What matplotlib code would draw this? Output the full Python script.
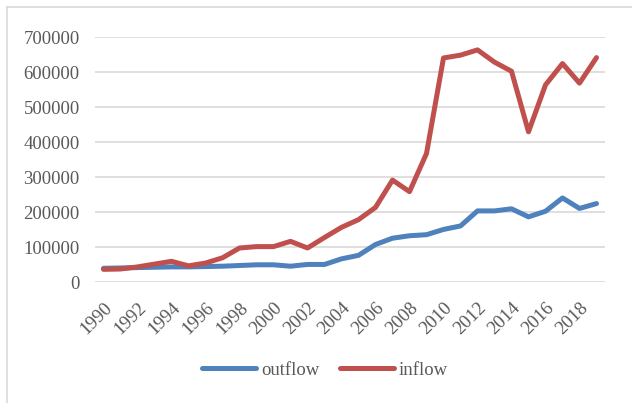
import numpy as np
import matplotlib.pyplot as plt
from matplotlib.lines import Line2D

years = list(range(1990, 2020))
outflow = [40000, 41000, 42000, 43000, 44000, 44000, 45000, 46000, 48000, 50000,
           50000, 46000, 51000, 51000, 67000, 77000, 108000, 126000, 133000, 136000,
           151000, 161000, 204000, 204000, 210000, 187000, 203000, 241000, 211000, 225000]
inflow = [37000, 38000, 44000, 52000, 60000, 47000, 55000, 70000, 98000, 102000,
          102000, 117000, 98000, 128000, 157000, 179000, 214000, 292000, 259000, 368000,
          641000, 649000, 664000, 629000, 603000, 430000, 564000, 625000, 569000, 642000]
yticks = [0, 100000, 200000, 300000, 400000, 500000, 600000, 700000]

plt.rcParams['font.family'] = ['Liberation Serif', 'DejaVu Serif']

fig = plt.figure(figsize=(6.32, 4.03), dpi=100)
W, H = 632, 403
ax = fig.add_axes([95 / W, 1 - 282.3 / H, 510 / W, (282.3 - 37.3) / H])

x = np.arange(len(years))
ax.plot(x, outflow, color='#4F81BD', lw=3.6, solid_capstyle='round', solid_joinstyle='round', label='outflow')
ax.plot(x, inflow, color='#C0504D', lw=3.6, solid_capstyle='round', solid_joinstyle='round', label='inflow')

ax.set_xlim(-0.5, len(years) - 0.5)
ax.set_ylim(0, 700000)
ax.set_yticks(yticks)
ax.set_yticklabels([str(v) for v in yticks])
ax.set_xticks(x[::2])
ax.set_xticklabels([str(y) for y in years[::2]], rotation=45, ha='right', rotation_mode='anchor')
ax.tick_params(axis='both', length=0, labelsize=13.5, labelcolor='#595959')
ax.tick_params(axis='y', pad=11)
ax.tick_params(axis='x', pad=12)
ax.grid(axis='y', color='#D9D9D9', lw=1.2)
ax.set_axisbelow(True)
for s in ax.spines.values():
    s.set_visible(False)

ax.legend(loc='center', bbox_to_anchor=(325 / W, 1 - 370 / H), bbox_transform=fig.transFigure,
          ncol=2, frameon=False, fontsize=13.5, labelcolor='#595959', handlelength=2.9,
          handletextpad=0.25, columnspacing=1.1)

# chart border (only left and top edges visible)
fig.add_artist(Line2D([6.5 / W, 6.5 / W], [0, 1 - 7 / H], color='#D9D9D9', lw=1.2, transform=fig.transFigure))
fig.add_artist(Line2D([6.5 / W, 1], [1 - 7 / H, 1 - 7 / H], color='#D9D9D9', lw=1.2, transform=fig.transFigure))

fig.savefig('out.png', dpi=100)
